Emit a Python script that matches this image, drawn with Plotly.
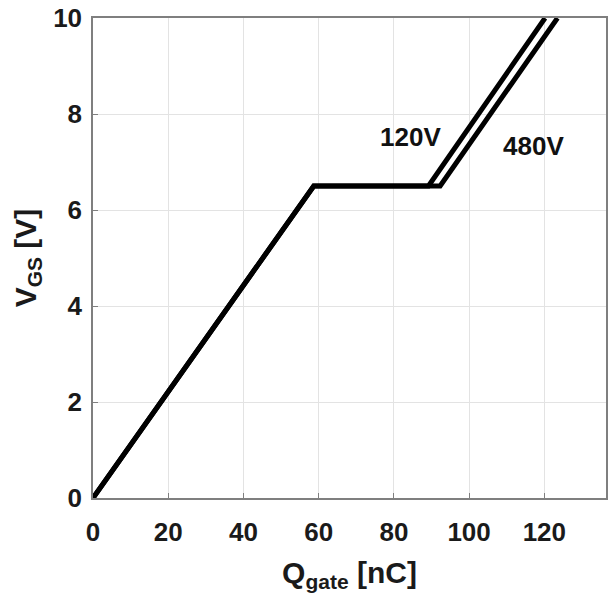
import plotly.graph_objects as go

# Gate charge curves (Q in nC, VGS in V)
q_120 = [0, 58.7, 89.2, 120.2]
v_120 = [0, 6.5, 6.5, 10]
q_480 = [0, 58.7, 92.3, 123.5]
v_480 = [0, 6.5, 6.5, 10]

labels = ["120V", "480V"]
label_x = [84.5, 117]
label_y = [7.52, 7.33]

x_ticks = [0, 20, 40, 60, 80, 100, 120]
y_ticks = [0, 2, 4, 6, 8, 10]

FONT = "Liberation Sans Narrow, Arial Narrow, Liberation Sans, Arial"

fig = go.Figure()
fig.add_trace(go.Scatter(x=q_480, y=v_480, mode="lines",
                         line=dict(color="black", width=5), showlegend=False))
fig.add_trace(go.Scatter(x=q_120, y=v_120, mode="lines",
                         line=dict(color="black", width=5), showlegend=False))

for t, x, y in zip(labels, label_x, label_y):
    fig.add_annotation(x=x, y=y, text="<b>%s</b>" % t, showarrow=False,
                       font=dict(family=FONT, size=26, color="#111"))

axis_common = dict(
    showline=True, linecolor="#7f7f7f", linewidth=1.5, mirror=True,
    showgrid=True, gridcolor="#e3e3e3", gridwidth=1,
    ticks="inside", ticklen=5, tickcolor="#7f7f7f",
    zeroline=False,
    tickfont=dict(family=FONT, size=26, color="#1a1a1a"),
)

fig.update_xaxes(range=[0, 136.4], tickvals=x_ticks,
                 ticktext=["<b>%d</b>" % v for v in x_ticks],
                 title=dict(text="<b>Q<sub>gate</sub> [nC]</b>",
                            font=dict(family=FONT, size=30, color="#1a1a1a"), standoff=16),
                 ticklabelstandoff=10,
                 **axis_common)
fig.update_yaxes(range=[0, 10], tickvals=y_ticks,
                 ticktext=["<b>%d</b>" % v for v in y_ticks],
                 title=dict(text="<b>V<sub>GS</sub> [V]</b>",
                            font=dict(family=FONT, size=30, color="#1a1a1a"), standoff=8),
                 ticklabelstandoff=4,
                 **axis_common)

fig.update_layout(
    width=611, height=603,
    margin=dict(l=93, r=3, t=17, b=105),
    paper_bgcolor="white", plot_bgcolor="white",
)

fig.write_html("out.html")
